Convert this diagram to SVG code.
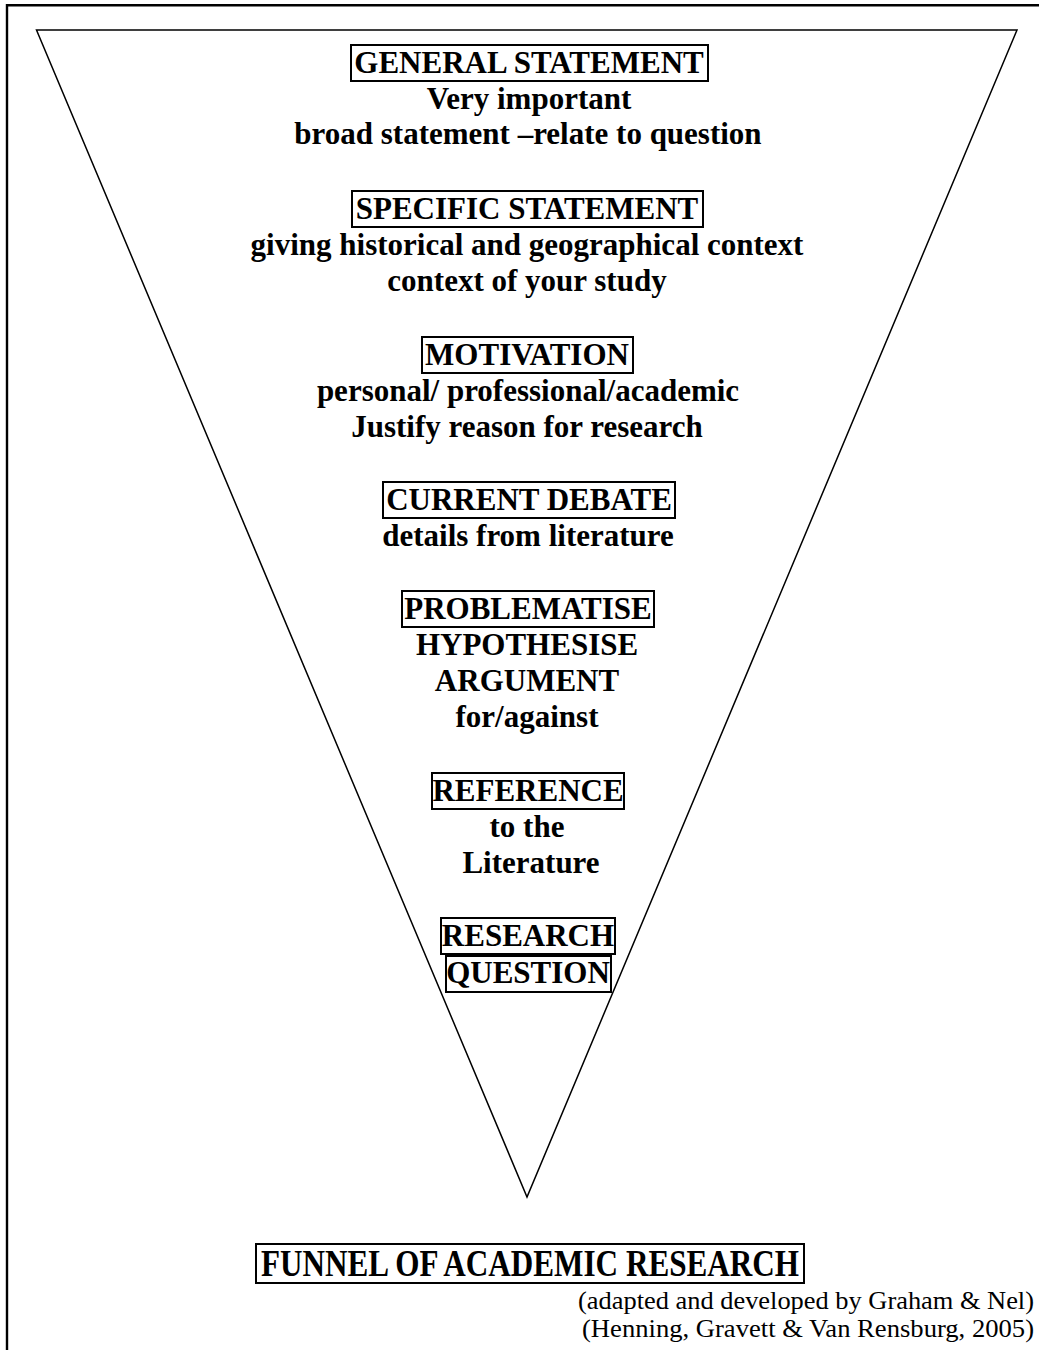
<svg xmlns="http://www.w3.org/2000/svg" width="1039" height="1350" viewBox="0 0 1039 1350">
<style>
.t{font-family:"Liberation Serif","Times New Roman",serif;font-weight:bold;font-size:31px;text-anchor:middle;fill:#000}
.n{font-family:"Liberation Serif","Times New Roman",serif;font-size:26px;text-anchor:end;fill:#000}
.b{fill:none;stroke:#000;stroke-width:2}
.f{fill:none;stroke:#000;stroke-width:1.5}
</style>
<rect width="1039" height="1350" fill="#fff"/>
<g id="frame">
<line x1="7" y1="5.3" x2="1039" y2="5.3" stroke="#000" stroke-width="2.6"/>
<line x1="7" y1="4" x2="7" y2="1350" stroke="#000" stroke-width="2.4"/>
</g>
<g id="funnel">
<polygon class="f" points="36.5,30 1017,30 527,1197"/>
</g>
<g id="general">
<rect class="b" x="351" y="45" width="357" height="36"/>
<text class="t" x="529" y="73">GENERAL STATEMENT</text>
<text class="t" x="529" y="109">Very important</text>
<text class="t" x="528" y="144">broad statement –relate to question</text>
</g>
<g id="specific">
<rect class="b" x="352" y="191" width="351" height="36"/>
<text class="t" x="527" y="219">SPECIFIC STATEMENT</text>
<text class="t" x="527" y="255">giving historical and geographical context</text>
<text class="t" x="527" y="291">context of your study</text>
</g>
<g id="motivation">
<rect class="b" x="422" y="337" width="211" height="36"/>
<text class="t" x="527" y="365">MOTIVATION</text>
<text class="t" x="528" y="401">personal/ professional/academic</text>
<text class="t" x="527" y="437">Justify reason for research</text>
</g>
<g id="debate">
<rect class="b" x="383" y="482" width="292" height="36"/>
<text class="t" x="529" y="510">CURRENT DEBATE</text>
<text class="t" x="528" y="546">details from literature</text>
</g>
<g id="problematise">
<rect class="b" x="402" y="591" width="252" height="36"/>
<text class="t" x="528" y="619">PROBLEMATISE</text>
<text class="t" x="527" y="655">HYPOTHESISE</text>
<text class="t" x="527" y="691">ARGUMENT</text>
<text class="t" x="527" y="727">for/against</text>
</g>
<g id="reference">
<rect class="b" x="432" y="773" width="192" height="36"/>
<text class="t" x="528" y="801">REFERENCE</text>
<text class="t" x="527" y="837">to the</text>
<text class="t" x="531" y="873">Literature</text>
</g>
<g id="question">
<rect class="b" x="441" y="918" width="174" height="36"/>
<text class="t" x="528" y="946">RESEARCH</text>
<rect class="b" x="446" y="956" width="165" height="36"/>
<text class="t" x="528" y="983">QUESTION</text>
</g>
<g id="title">
<rect class="b" x="256" y="1244" width="548" height="39"/>
<text class="t" x="530" y="1276" style="font-size:37px" textLength="538" lengthAdjust="spacingAndGlyphs">FUNNEL OF ACADEMIC RESEARCH</text>
<text class="n" x="1034" y="1309" textLength="456" lengthAdjust="spacingAndGlyphs">(adapted and developed by Graham &amp; Nel)</text>
<text class="n" x="1034" y="1337" textLength="452" lengthAdjust="spacingAndGlyphs">(Henning, Gravett &amp; Van Rensburg, 2005)</text>
</g>
</svg>
